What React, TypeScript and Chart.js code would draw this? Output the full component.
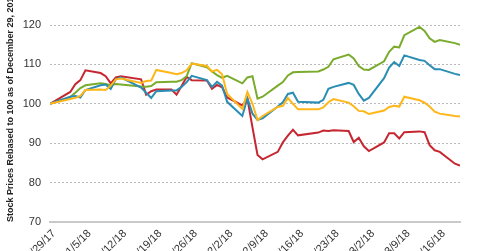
import { useEffect, useRef } from 'react';
import { Chart, registerables } from 'chart.js';
Chart.register(...registerables);

const DATES = [
  '12/29/17',
  '1/2/18', '1/3/18', '1/4/18', '1/5/18',
  '1/8/18', '1/9/18', '1/10/18', '1/11/18', '1/12/18',
  '1/16/18', '1/17/18', '1/18/18', '1/19/18',
  '1/22/18', '1/23/18', '1/24/18', '1/25/18', '1/26/18',
  '1/29/18', '1/30/18', '1/31/18', '2/1/18', '2/2/18',
  '2/5/18', '2/6/18', '2/7/18', '2/8/18', '2/9/18',
  '2/12/18', '2/13/18', '2/14/18', '2/15/18', '2/16/18',
  '2/20/18', '2/21/18', '2/22/18', '2/23/18',
  '2/26/18', '2/27/18', '2/28/18', '3/1/18', '3/2/18',
  '3/5/18', '3/6/18', '3/7/18', '3/8/18', '3/9/18',
  '3/12/18', '3/13/18', '3/14/18', '3/15/18', '3/16/18',
  '3/19/18', '3/20/18',
];

const RED = [
  100,
  103, 105, 106, 108.5,
  107.8, 107.0, 105.2, 106.7, 107.0,
  106.2, 102.3, 103.2, 103.6,
  103.6, 102.3, 104.5, 106.8, 106.0,
  105.9, 103.8, 104.8, 104.2, 101.6,
  99.6, 101.3, 94, 87, 85.9,
  87.8, 90.2, 91.9, 93.4, 92.0,
  92.7, 93.2, 93.1, 93.3,
  93.1, 90.3, 91.4, 89.2, 88.0,
  90.2, 92.5, 92.5, 91.2, 92.8,
  93.0, 92.8, 89.5, 88.2, 87.8,
  84.8, 84.3,
];

const GREEN = [
  100,
  101.7, 102.8, 104.0, 104.7,
  105.2, 105.0, 104.7, 105.0, 104.9,
  104.4, 104.3, 104.5, 105.5,
  105.6, 105.6, 106.0, 107.0, 110.3,
  109.3, 108.2, 107.3, 106.6, 107.1,
  105.2, 106.7, 107.0, 101.3, 101.8,
  104.6, 105.5, 107.2, 108.0, 108.1,
  108.2, 108.7, 109.4, 111.3,
  112.5, 111.5, 109.6, 108.7, 108.6,
  110.8, 113.2, 114.5, 114.3, 117.4,
  119.5, 118.5, 116.6, 115.7, 116.2,
  115.4, 115.0,
];

const BLUE = [
  100,
  101.8, 102.0, 101.6, 103.5,
  104.7, 104.9, 103.8, 106.2, 106.7,
  104.1, 102.8, 101.5, 103.2,
  103.4, 103.4, 104.3, 105.5, 107.1,
  106.0, 104.3, 105.6, 104.6, 100.5,
  96.9, 101.4, 97.5, 95.9, 96.3,
  99.3, 100.4, 102.5, 102.8, 100.5,
  100.3, 101.0, 103.8, 104.3,
  105.3, 104.8, 102.5, 100.8, 101.5,
  106.5, 109.2, 110.6, 109.6, 112.3,
  111.1, 110.9, 109.8, 108.8, 108.8,
  107.6, 107.3,
];

const YELLOW = [
  100,
  101.2, 101.5, 102.0, 103.5,
  103.6, 103.5, 104.6, 106.2, 106.4,
  105.3, 105.8, 105.9, 108.6,
  107.8, 107.5, 107.8, 108.5, 110.2,
  109.6, 108.2, 108.6, 107.5, 102.5,
  98.7, 103.0, 100.0, 95.9, 96.9,
  99.2, 99.5, 101.5, 100.0, 98.6,
  98.6, 99.1, 100.4, 101.2,
  100.3, 99.4, 98.2, 98.1, 97.4,
  98.3, 99.2, 99.5, 99.3, 101.8,
  100.9, 100.3, 99.3, 98.0, 97.5,
  96.9, 96.8,
];

const Y_MIN = 70;
const Y_MAX = 120;
const Y_STEP = 10;
const X_TICK_STEP_DAYS = 7;
const Y_TITLE = 'Stock Prices Rebased to 100 as of December 29, 2017';

const BASE = Date.UTC(2017, 11, 29);
const DAY = 86400000;

function dayOffset(s: string): number {
  const [m, d, y] = s.split('/').map(Number);
  return Math.round((Date.UTC(2000 + y, m - 1, d) - BASE) / DAY);
}

function dayLabel(v: number): string {
  const dt = new Date(BASE + v * DAY);
  return `${dt.getUTCMonth() + 1}/${dt.getUTCDate()}/${String(dt.getUTCFullYear()).slice(2)}`;
}

function series(values: number[]) {
  return DATES.map((d, i) => ({ x: dayOffset(d), y: values[i] }));
}

export default function App() {
  const ref = useRef<HTMLCanvasElement | null>(null);

  useEffect(() => {
    if (!ref.current) return;
    const lastDay = dayOffset(DATES[DATES.length - 1]);
    const mk = (label: string, values: number[], color: string) => ({
      label,
      data: series(values),
      borderColor: color,
      backgroundColor: color,
      borderWidth: 2,
      pointRadius: 0,
      tension: 0,
      fill: false,
    });
    const chart = new Chart(ref.current, {
      type: 'line',
      data: {
        datasets: [
          mk('Yellow', YELLOW, '#ffb619'),
          mk('Blue', BLUE, '#2a8db3'),
          mk('Green', GREEN, '#7aab2c'),
          mk('Red', RED, '#c62630'),
        ],
      },
      options: {
        animation: false,
        responsive: false,
        maintainAspectRatio: false,
        layout: { padding: { top: 25, right: 20, left: 0, bottom: 0 } },
        plugins: { legend: { display: false }, tooltip: { enabled: false } },
        scales: {
          x: {
            type: 'linear',
            min: 0,
            max: lastDay,
            afterFit: (s: any) => { s.height = 29; },
            grid: { display: false, drawTicks: false },
            border: { display: true, color: '#c9c9c9', width: 2 },
            ticks: {
              stepSize: X_TICK_STEP_DAYS,
              includeBounds: false,
              autoSkip: false,
              maxRotation: 45,
              minRotation: 45,
              padding: 5,
              labelOffset: 4,
              color: '#333333',
              font: { family: 'Liberation Sans, Arial, sans-serif', size: 11 },
              callback: (v: any) => dayLabel(Number(v)),
            },
          },
          y: {
            min: Y_MIN,
            max: Y_MAX,
            afterFit: (s: any) => { s.width = 50; },
            grid: {
              drawTicks: false,
              color: (c: any) => (c.tick && c.tick.value === Y_MIN ? 'rgba(0,0,0,0)' : '#b8b8b8'),
              lineWidth: 1,
            },
            border: { display: false, dash: [2, 2] },
            ticks: {
              stepSize: Y_STEP,
              padding: 9,
              color: '#333333',
              font: { family: 'Liberation Sans, Arial, sans-serif', size: 11 },
            },
            title: {
              display: true,
              text: Y_TITLE,
              align: 'start',
              color: '#222222',
              padding: { top: 5, bottom: 4 },
              font: { family: 'Liberation Sans, Arial, sans-serif', size: 9, weight: 'bold' },
            },
          },
        },
      },
    });
    return () => chart.destroy();
  }, []);

  return (
    <div style={{ position: 'fixed', left: 0, top: 0, width: 480, height: 251, background: '#fff' }}>
      <canvas ref={ref} width={480} height={251} style={{ display: 'block', width: 480, height: 251 }} />
    </div>
  );
}
